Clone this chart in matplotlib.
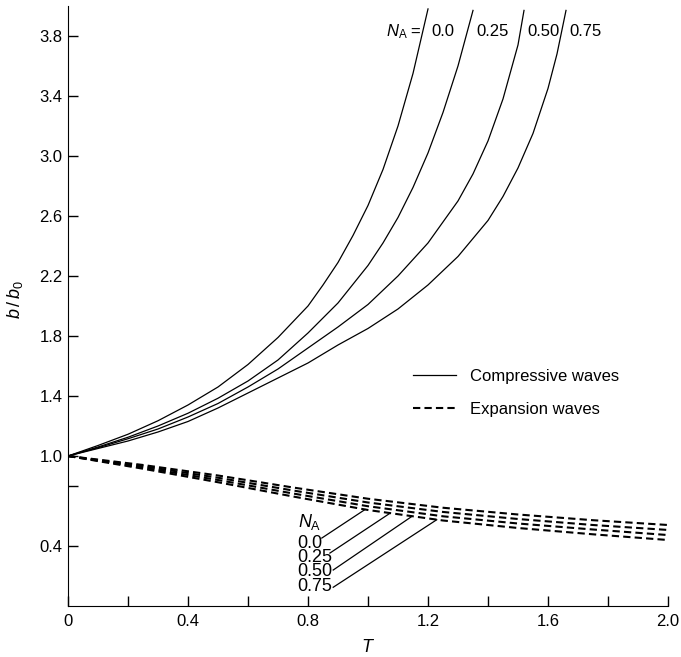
import numpy as np
import matplotlib.pyplot as plt

plt.rcParams['font.family'] = ['Liberation Sans', 'DejaVu Sans']
plt.rcParams['mathtext.fontset'] = 'custom'
plt.rcParams['mathtext.it'] = 'Liberation Sans:italic'
plt.rcParams['mathtext.rm'] = 'Liberation Sans'

# N_A values
na_labels = ["0.0", "0.25", "0.50", "0.75"]

# compressive waves (solid)
t_c0 = [0, 0.1, 0.2, 0.3, 0.4, 0.5, 0.6, 0.7, 0.8, 0.85, 0.9, 0.95, 1.0, 1.05, 1.1, 1.15, 1.2]
b_c0 = [1.0, 1.07, 1.145, 1.235, 1.34, 1.46, 1.61, 1.79, 2.0, 2.14, 2.29, 2.47, 2.67, 2.91, 3.20, 3.55, 3.98]
t_c1 = [0, 0.1, 0.2, 0.3, 0.4, 0.5, 0.6, 0.7, 0.8, 0.9, 1.0, 1.05, 1.1, 1.15, 1.2, 1.25, 1.3, 1.35]
b_c1 = [1.0, 1.06, 1.125, 1.20, 1.285, 1.385, 1.50, 1.64, 1.82, 2.02, 2.27, 2.42, 2.59, 2.79, 3.02, 3.29, 3.60, 3.97]
t_c2 = [0, 0.1, 0.2, 0.3, 0.4, 0.5, 0.6, 0.7, 0.8, 0.9, 1.0, 1.1, 1.2, 1.3, 1.35, 1.4, 1.45, 1.5, 1.52]
b_c2 = [1.0, 1.055, 1.115, 1.18, 1.26, 1.35, 1.46, 1.58, 1.72, 1.86, 2.01, 2.20, 2.42, 2.70, 2.88, 3.10, 3.38, 3.74, 3.97]
t_c3 = [0, 0.1, 0.2, 0.3, 0.4, 0.5, 0.6, 0.7, 0.8, 0.9, 1.0, 1.1, 1.2, 1.3, 1.4, 1.45, 1.5, 1.55, 1.6, 1.63, 1.66]
b_c3 = [1.0, 1.05, 1.10, 1.16, 1.23, 1.32, 1.42, 1.52, 1.62, 1.74, 1.85, 1.98, 2.14, 2.33, 2.57, 2.73, 2.92, 3.15, 3.45, 3.68, 3.97]

# expansion waves (dashed)
t_e = [0, 0.25, 0.5, 0.75, 1.0, 1.25, 1.5, 1.75, 2.0]
b_e0 = [1.0, 0.915, 0.825, 0.73, 0.64, 0.57, 0.52, 0.478, 0.44]
b_e1 = [1.0, 0.923, 0.84, 0.75, 0.665, 0.598, 0.55, 0.51, 0.473]
b_e2 = [1.0, 0.932, 0.855, 0.77, 0.69, 0.627, 0.58, 0.54, 0.507]
b_e3 = [1.0, 0.94, 0.87, 0.79, 0.715, 0.655, 0.61, 0.572, 0.54]

# leader lines for the lower N_A labels (label side -> curve side)
lead_x0 = [0.846, 0.873, 0.884, 0.884]
lead_y0 = [0.453, 0.353, 0.24, 0.125]
lead_x1 = [0.99, 1.073, 1.146, 1.229]
lead_y1 = [0.643, 0.618, 0.597, 0.575]

fig = plt.figure(figsize=(6.81, 6.57), dpi=100)
ax = fig.add_axes([0.0999, 0.0776, 0.881, 0.9134])

comp = [(t_c0, b_c0), (t_c1, b_c1), (t_c2, b_c2), (t_c3, b_c3)]
for i, (t, b) in enumerate(comp):
    ax.plot(t, b, color="black", lw=0.9,
            label="Compressive waves" if i == 0 else None)
for i, b in enumerate([b_e0, b_e1, b_e2, b_e3]):
    ax.plot(t_e, b, color="black", lw=1.5, dashes=(3.5, 2),
            label="Expansion waves" if i == 0 else None)

# top labels
ax.text(1.18, 3.83, r"$N_{\mathrm{A}}$ =", ha="right", va="center", fontsize=12)
for t, lab in zip([t_c0, t_c1, t_c2, t_c3], na_labels):
    ax.text(t[-1] + 0.01, 3.83, lab, ha="left", va="center", fontsize=12)

# lower labels, one stacked block
ax.text(0.765, 0.56, r"$N_{\mathrm{A}}$", ha="left", va="center", fontsize=13)
ax.text(0.765, 0.275, "\n".join(na_labels), ha="left", va="center",
        fontsize=13, linespacing=0.8)
for k in range(len(na_labels)):
    ax.plot([lead_x0[k], lead_x1[k]], [lead_y0[k], lead_y1[k]],
            color="black", lw=0.9)

leg = ax.legend(loc="center left", bbox_to_anchor=(0.55, 0.355), frameon=False,
                fontsize=12, handlelength=2.6, labelspacing=1.1)

ax.set_xlim(0, 2.0)
ax.set_ylim(0, 4.0)
ax.spines["top"].set_visible(False)
ax.spines["right"].set_visible(False)

xt = [0, 0.2, 0.4, 0.6, 0.8, 1.0, 1.2, 1.4, 1.6, 1.8, 2.0]
xl = ["0", "", "0.4", "", "0.8", "", "1.2", "", "1.6", "", "2.0"]
ax.set_xticks(xt)
ax.set_xticklabels(xl)
yt = [0.4, 0.8, 1.0, 1.4, 1.8, 2.2, 2.6, 3.0, 3.4, 3.8]
yl = ["0.4", "", "1.0", "1.4", "1.8", "2.2", "2.6", "3.0", "3.4", "3.8"]
ax.set_yticks(yt)
ax.set_yticklabels(yl)
ax.tick_params(direction="in", length=7, width=1, labelsize=12)
ax.tick_params(axis="x", pad=6)
ax.tick_params(axis="y", pad=4)

ax.set_xlabel(r"$T$", fontsize=13)
ax.xaxis.set_label_coords(0.5, -0.055)
ax.set_ylabel(r"$b\,/\,b_0$", fontsize=13)
ax.yaxis.set_label_coords(-0.072, 0.51)

plt.savefig("out.png", dpi=100)
